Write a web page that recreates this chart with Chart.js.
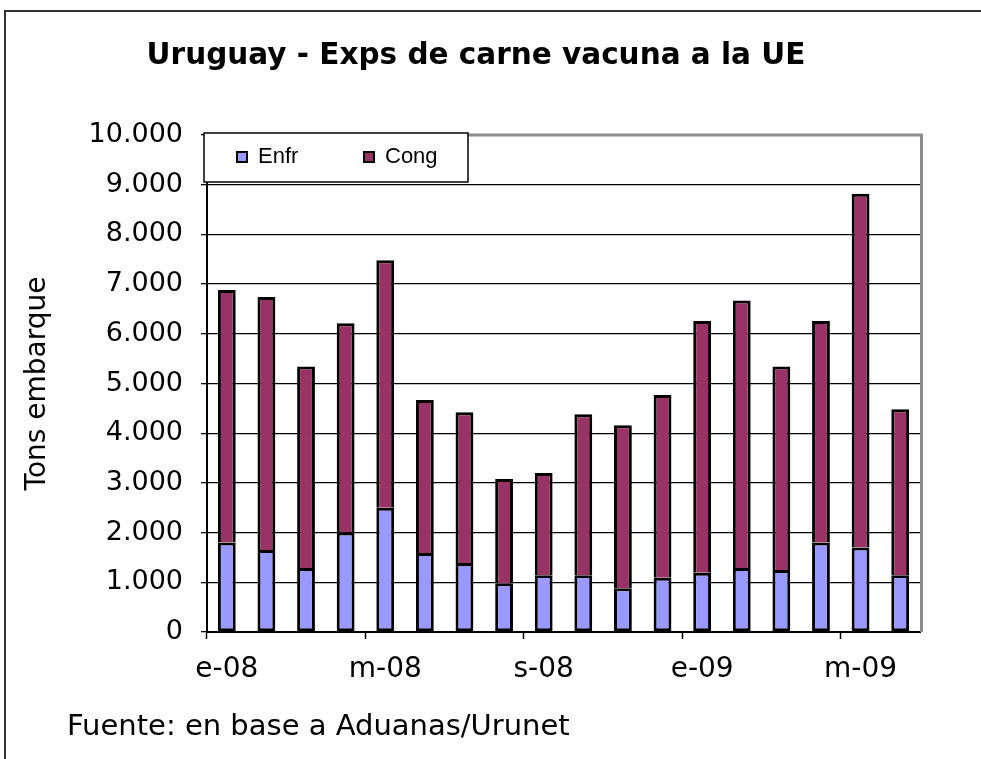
<!DOCTYPE html>
<html>
<head>
<meta charset="utf-8">
<script src="https://cdn.jsdelivr.net/npm/chart.js@4.4.1/dist/chart.umd.min.js"></script>
<style>
  html, body { margin: 0; padding: 0; background: #fff; }
  canvas { display: block; }
</style>
</head>
<body>
<canvas id="exps-chart" width="981" height="759"></canvas>
<script>
// === Uruguay - Exps de carne vacuna a la UE ===
const months = ['e-08', 'f-08', 'm-08', 'a-08', 'm-08', 'j-08', 'j-08', 'a-08', 's-08', 'o-08', 'n-08', 'd-08',
                'e-09', 'f-09', 'm-09', 'a-09', 'm-09', 'j-09'];
const enfr = [1800, 1650, 1290, 2000, 2500, 1590, 1390, 980, 1140, 1140, 880, 1090, 1190, 1290, 1250, 1800, 1700, 1140];
const cong = [5080, 5090, 4050, 4210, 4980, 3080, 3030, 2100, 2060, 3240, 3280, 3680, 5070, 5380, 4090, 4460, 7120, 3340];
const yTicks = [0, 1000, 2000, 3000, 4000, 5000, 6000, 7000, 8000, 9000, 10000];

const chartTitle = 'Uruguay - Exps de carne vacuna a la UE';
const yTitle = 'Tons embarque';
const fuente = 'Fuente: en base a Aduanas/Urunet';

// miles con punto: 10000 -> 10.000
function fmtMiles(v) {
  return String(v).replace(/\B(?=(\d{3})+(?!\d))/g, '.');
}

// marco, titulo, borde gris del area, leyenda y fuente
const decoPlugin = {
  id: 'deco',
  beforeDatasetsDraw(chart) {
    const { ctx, chartArea: a } = chart;
    ctx.save();
    ctx.strokeStyle = '#8c8c8c';
    ctx.lineWidth = 3;
    ctx.beginPath();
    ctx.moveTo(a.left, a.top);
    ctx.lineTo(a.right + 1.5, a.top);
    ctx.lineTo(a.right + 1.5, a.bottom);
    ctx.stroke();
    ctx.restore();
  },
  afterDraw(chart) {
    const { ctx } = chart;
    ctx.save();
    // marco exterior
    ctx.strokeStyle = '#333';
    ctx.lineWidth = 2;
    ctx.beginPath();
    ctx.moveTo(5, 759);
    ctx.lineTo(5, 11);
    ctx.lineTo(981, 11);
    ctx.stroke();

    // titulo
    ctx.fillStyle = '#000';
    ctx.font = 'bold 29.5px "DejaVu Sans"';
    ctx.textAlign = 'center';
    ctx.textBaseline = 'middle';
    ctx.fillText(chartTitle, 476, 56);

    // fuente
    ctx.font = '29px "DejaVu Sans"';
    ctx.textAlign = 'left';
    ctx.fillText(fuente, 67, 727);

    // leyenda
    ctx.fillStyle = '#fff';
    ctx.fillRect(204, 133, 264, 49);
    ctx.strokeStyle = '#000';
    ctx.lineWidth = 1.5;
    ctx.strokeRect(204, 133, 264, 49);
    const items = [[237, 258], [364, 385]];
    chart.data.datasets.forEach((ds, i) => {
      const [bx, tx] = items[i];
      ctx.fillStyle = ds.backgroundColor;
      ctx.fillRect(bx, 152, 10, 10);
      ctx.strokeStyle = '#000';
      ctx.lineWidth = 2;
      ctx.strokeRect(bx, 152, 10, 10);
      ctx.fillStyle = '#000';
      ctx.font = '22px "Liberation Sans"';
      ctx.textBaseline = 'middle';
      ctx.fillText(ds.label, tx, 157);
    });
    ctx.restore();
  }
};

const ctx = document.getElementById('exps-chart');
new Chart(ctx, {
  type: 'bar',
  data: {
    labels: months,
    datasets: [
      {
        label: 'Enfr',
        data: enfr,
        backgroundColor: '#9999ff',
        borderColor: '#000',
        borderWidth: 3,
        borderSkipped: false
      },
      {
        label: 'Cong',
        data: cong,
        backgroundColor: '#993366',
        borderColor: '#000',
        borderWidth: 3,
        borderSkipped: 'start'
      }
    ]
  },
  options: {
    responsive: false,
    animation: false,
    barPercentage: 0.45,
    categoryPercentage: 1,
    layout: { padding: { top: 135, left: 0, right: 61, bottom: 0 } },
    plugins: {
      legend: { display: false },
      title: { display: false },
      tooltip: { enabled: false }
    },
    scales: {
      x: {
        stacked: true,
        offset: true,
        afterFit: (s) => { s.height = 127; },
        grid: {
          offset: true,
          drawOnChartArea: false,
          drawTicks: true,
          tickLength: 7,
          tickWidth: 1.5,
          tickColor: (c) => (c.index % 4 === 0 ? '#000' : 'rgba(0,0,0,0)')
        },
        border: { display: true, color: '#000', width: 2 },
        ticks: {
          autoSkip: false,
          maxRotation: 0,
          padding: 14,
          color: '#000',
          font: { family: 'DejaVu Sans', size: 28 },
          callback: (v, i) => (i % 4 === 0 ? months[i] : '')
        }
      },
      y: {
        stacked: true,
        min: 0,
        max: 10000,
        afterFit: (s) => { s.width = 207; },
        afterBuildTicks: (s) => { s.ticks = yTicks.map(v => ({ value: v })); },
        grid: {
          color: (c) => (c.tick && c.tick.value === 10000 ? 'rgba(0,0,0,0)' : '#000'),
          lineWidth: 1.3,
          tickColor: '#000',
          tickLength: 6
        },
        border: { display: true, color: '#000', width: 2 },
        ticks: {
          padding: 18,
          color: '#000',
          font: { family: 'DejaVu Sans', size: 27 },
          callback: (v) => fmtMiles(v)
        },
        title: {
          display: true,
          text: yTitle,
          color: '#000',
          font: { family: 'DejaVu Sans', size: 28 },
          padding: { top: 21, bottom: 0 }
        }
      }
    }
  },
  plugins: [decoPlugin]
});
</script>
</body>
</html>
